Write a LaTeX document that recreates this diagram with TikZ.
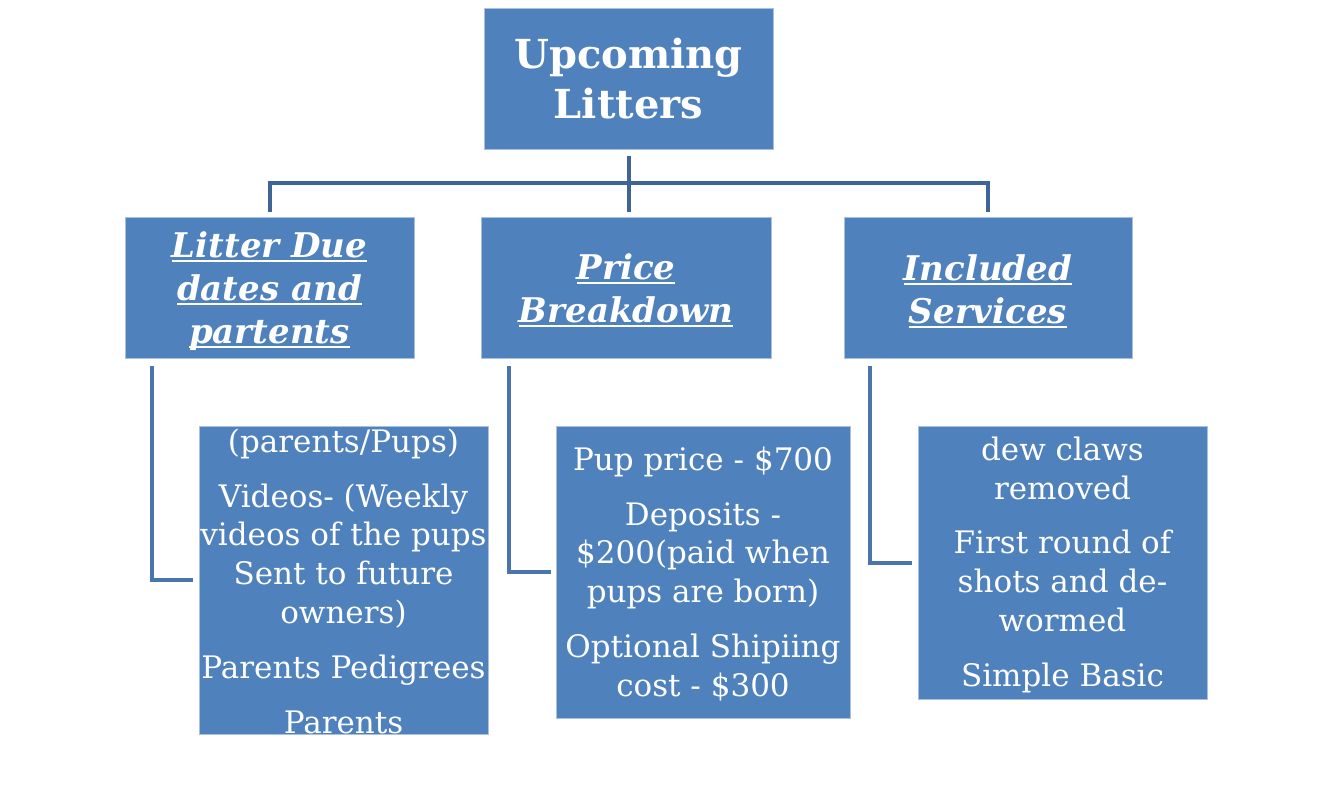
\documentclass[tikz,border=0pt]{standalone}
\usepackage{fontspec}
\setmainfont{DejaVu Serif}
\newcommand\ulword[1]{\leavevmode\setbox0\hbox{#1}\rlap{\rule[-5pt]{\wd0}{2pt}}\box0}
\definecolor{boxblue}{HTML}{4F81BD}
\definecolor{boxedge}{HTML}{A9C0DE}
\definecolor{busline}{HTML}{3F6597}
\definecolor{sideline}{HTML}{4A74AC}
\begin{document}
\begin{tikzpicture}[x=1pt,y=-1pt,
  box/.style={fill=boxblue, draw=boxedge, line width=0.8pt, inner sep=0pt, anchor=north west},
  toptext/.style={text=white, align=center, inner sep=0pt, anchor=north,
    font=\fontsize{40}{50}\selectfont\bfseries},
  headtext/.style={text=white, align=center, inner sep=0pt, anchor=north,
    font=\fontsize{34}{43}\selectfont\bfseries\itshape},
  bodytext/.style={text=white, align=center, inner sep=0pt, anchor=north,
    font=\fontsize{31}{38.8}\selectfont},
  bus/.style={draw=busline, line width=4pt, line join=miter},
  side/.style={draw=sideline, line width=4pt, line join=miter}]
\useasboundingbox (0,0) rectangle (1331,788);
% boxes
\node[box, minimum width=289pt, minimum height=141pt] (t) at (484,8) {};
\node[box, minimum width=289pt, minimum height=141pt] (b1) at (125,217) {};
\node[box, minimum width=290pt, minimum height=141pt] (b2) at (481,217) {};
\node[box, minimum width=288pt, minimum height=141pt] (b3) at (844,217) {};
\node[box, minimum width=289pt, minimum height=308pt] (c1) at (199,426) {};
\node[box, minimum width=294pt, minimum height=292pt] (c2) at (556,426) {};
\node[box, minimum width=289pt, minimum height=273pt] (c3) at (918,426) {};
% texts
\node[toptext] (tt) at (628.5,34) {\rule{0pt}{34pt}Upcoming\\Litters};
\node[headtext] (b1t) at (269.5,227) {\rule{0pt}{30pt}\ulword{Litter Due}\\\ulword{dates and}\\\ulword{partents}};
\node[headtext] (b2t) at (626,249) {\rule{0pt}{30pt}\ulword{Price}\\\ulword{Breakdown}};
\node[headtext] (b3t) at (988,250) {\rule{0pt}{30pt}\ulword{Included}\\\ulword{Services}};
\node[bodytext] (c1t) at (343.5,422) {\rule{0pt}{30pt}(parents/Pups)\\[16pt]Videos- (Weekly\\videos of the pups\\Sent to future\\owners)\\[16pt]Parents Pedigrees\\[16pt]Parents};
\node[bodytext] (c2t) at (703,440) {\rule{0pt}{30pt}Pup price - \$700\\[16pt]Deposits -\\\$200(paid when\\pups are born)\\[16pt]Optional Shipiing\\cost - \$300};
\node[bodytext] (c3t) at (1062.5,430) {\rule{0pt}{30pt}dew claws\\removed\\[16pt]First round of\\shots and de-\\wormed\\[16pt]Simple Basic};
% connectors
\draw[bus] ([yshift=-6pt]t.south) -- ([yshift=5pt]t.south |- b2.north);
\draw[bus] ([yshift=5pt]b1.north) |- ([yshift=-33pt]t.south) -| ([yshift=5pt]b3.north);
\draw[side] ([xshift=27pt,yshift=-7pt]b1.south west) |- ([xshift=-6pt]c1.west);
\draw[side] ([xshift=28pt,yshift=-7pt]b2.south west) |- ([xshift=-5pt]c2.west);
\draw[side] ([xshift=26pt,yshift=-7pt]b3.south west) |- ([xshift=-6pt]c3.west);
\end{tikzpicture}
\end{document}
